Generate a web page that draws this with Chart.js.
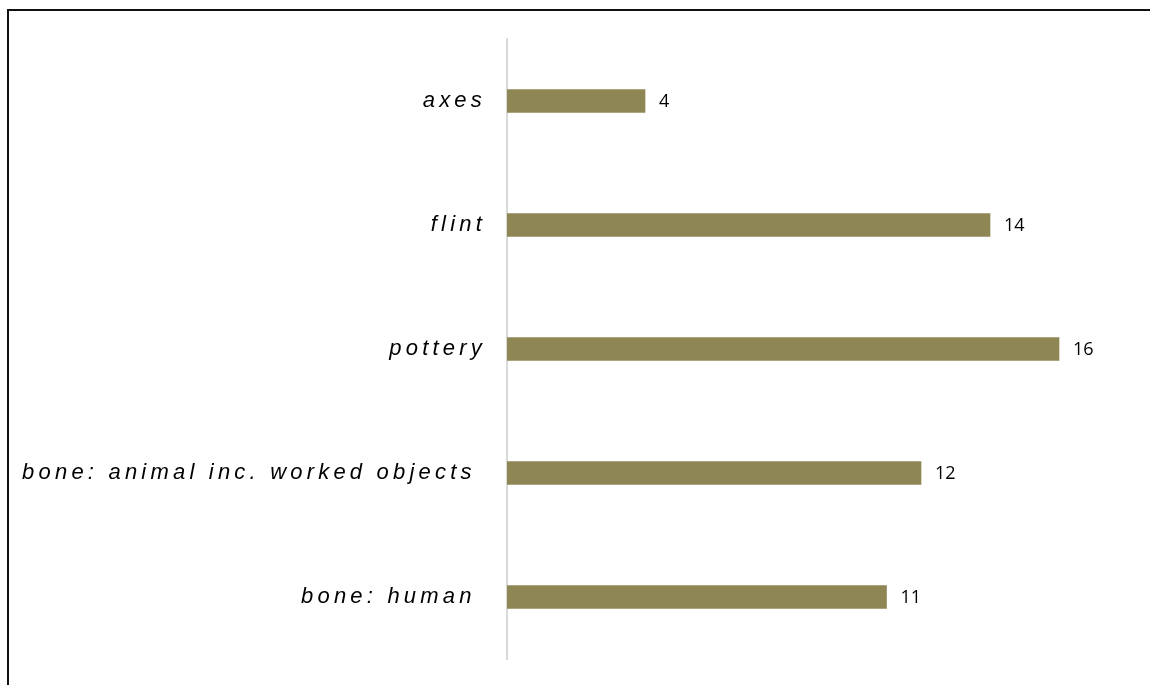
<!DOCTYPE html>
<html>
<head>
<meta charset="utf-8">
<script src="https://cdn.jsdelivr.net/npm/chart.js@4"></script>
<style>
  html, body { margin: 0; padding: 0; background: #fff; overflow: hidden; }
  #wrap { position: relative; width: 1150px; height: 685px; }
  #frame { position: absolute; left: 7px; top: 9px; width: 1200px; height: 700px;
           border-top: 2px solid #111; border-left: 2px solid #111; box-sizing: border-box; }
  canvas { position: absolute; left: 0; top: 0; }
</style>
</head>
<body>
<div id="wrap">
  <div id="frame"></div>
  <canvas id="chart" width="1150" height="685"></canvas>
</div>
<script>
// Finds by material
const categories = [
  'axes',
  'flint',
  'pottery',
  'bone: animal inc. worked objects ',
  'bone: human '
];
const counts = [4, 14, 16, 12, 11];
const xMax = 18;

const BAR_COLOR = '#8f8655';

// Spaced-out italic category labels
const letterSpacing = {
  id: 'letterSpacing',
  beforeDraw(chart) { chart.ctx.letterSpacing = '4.2px'; },
  afterDraw(chart) { chart.ctx.letterSpacing = '0px'; }
};

// Count printed just past the end of each bar
const valueLabels = {
  id: 'valueLabels',
  afterDatasetsDraw(chart) {
    const ctx = chart.ctx;
    ctx.save();
    ctx.letterSpacing = '0px';
    ctx.font = '18px "Open Sans", sans-serif';
    ctx.fillStyle = '#000';
    ctx.textAlign = 'left';
    ctx.textBaseline = 'middle';
    chart.getDatasetMeta(0).data.forEach((bar, i) => {
      ctx.fillText(String(counts[i]), bar.x + 14, bar.y + 1);
    });
    ctx.restore();
  }
};

new Chart(document.getElementById('chart'), {
  type: 'bar',
  data: {
    labels: categories,
    datasets: [{
      data: counts,
      backgroundColor: BAR_COLOR,
      borderWidth: 0,
      barThickness: 23
    }]
  },
  plugins: [letterSpacing, valueLabels],
  options: {
    indexAxis: 'y',
    responsive: false,
    animation: false,
    events: [],
    layout: { padding: { top: 39, bottom: 26, left: 0, right: 22 } },
    plugins: { legend: { display: false }, tooltip: { enabled: false } },
    scales: {
      x: { display: false, min: 0, max: xMax },
      y: {
        afterFit(scale) {
          scale.width = 507;
          scale.paddingTop = 0;
          scale.paddingBottom = 0;
        },
        grid: { display: false, drawTicks: false },
        border: { display: true, color: '#d9d9d9', width: 2 },
        ticks: {
          padding: 21,
          color: '#000',
          font: { family: '"Liberation Sans", Arial, sans-serif', size: 22, style: 'italic' }
        }
      }
    }
  }
});
</script>
</body>
</html>
